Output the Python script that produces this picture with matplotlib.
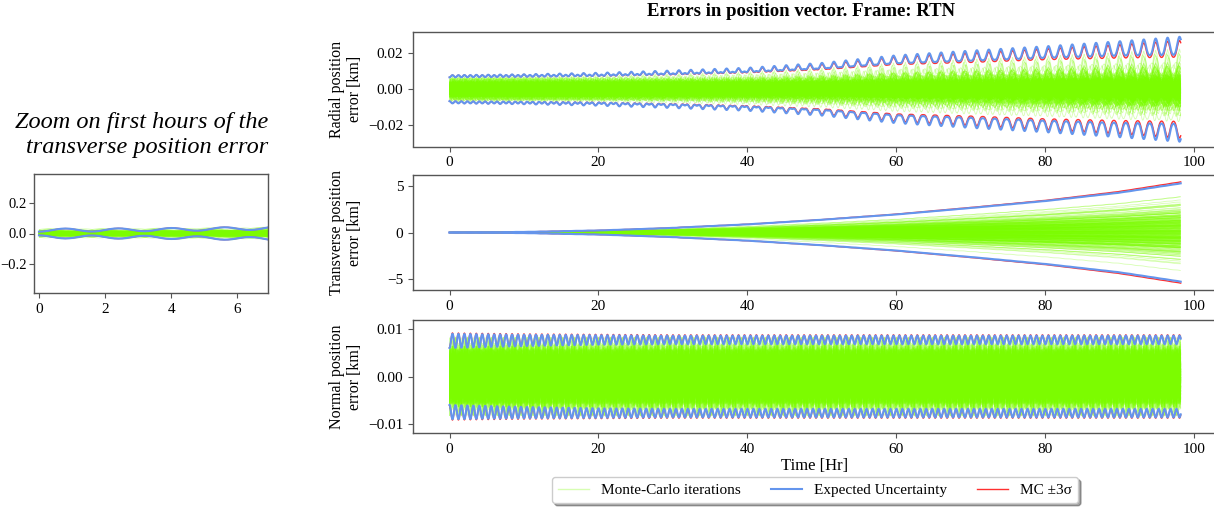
import numpy as np
import matplotlib
matplotlib.use("Agg")
import matplotlib.pyplot as plt
from matplotlib.collections import LineCollection
from matplotlib.lines import Line2D

plt.rcParams["font.family"] = ["Liberation Serif", "DejaVu Serif"]

# ---------------------------------------------------------------- data
t_end_hr = 98.2
dt_hr = 0.04
orbit_period_hr = 1.6

# 3-sigma envelope knots (time [hr], value [km])
knot_t = [0, 10, 20, 30, 40, 50, 60, 70, 80, 90, 98.2]
radial_base = [0.0072, 0.0075, 0.0080, 0.0090, 0.0103, 0.0125, 0.0160, 0.0180, 0.0200, 0.0220, 0.0235]
radial_orbit_amp = [0.0000, 0.0002, 0.0005, 0.0008, 0.0010, 0.0015, 0.0022, 0.0028, 0.0032, 0.0040, 0.0050]
radial_half_orbit_amp = 0.0006
radial_mc_ratio = [1.00, 0.99, 0.98, 0.97, 0.96, 0.95, 0.95, 0.94, 0.94, 0.93, 0.93]

trans_knot_t = [0, 2, 4, 7, 10, 20, 30, 40, 50, 60, 70, 80, 90, 98.2]
trans_base = [0.022, 0.023, 0.026, 0.035, 0.06, 0.22, 0.50, 0.88, 1.38, 1.95, 2.65, 3.40, 4.30, 5.30]
trans_orbit_amp = 0.010
trans_mc_ratio = [1.00, 1.00, 1.00, 1.00, 1.00, 1.00, 1.01, 1.01, 1.01, 1.02, 1.02, 1.02, 1.03, 1.03]

normal_base = [0.0075, 0.0076, 0.0077, 0.0077, 0.0077, 0.0077, 0.0077, 0.0077, 0.0077, 0.0077, 0.0077]
normal_half_orbit_amp = [0.0015, 0.0012, 0.0010, 0.0009, 0.0009, 0.0009, 0.0009, 0.0009, 0.0009, 0.0009, 0.0009]
normal_mc_ratio = [1.02, 1.02, 1.02, 1.02, 1.02, 1.02, 1.02, 1.02, 1.02, 1.02, 1.02]

# Monte-Carlo sample coefficients
amp_factors = [-0.98, -0.81, -0.64, -0.47, -0.30, -0.12, 0.09, 0.27, 0.44, 0.62, 0.79, 0.95]
phase_offsets = [0.0, 0.7, 1.6, 2.3, 3.2, 3.9, 4.8, 5.5]
variant_scales = [1.0, 0.66, 0.38]
drift_factors = [0.83, -0.74, 0.12, -0.05, 0.46, -0.38, 0.27, -0.61, 0.68, -0.22, 0.03, 0.35,
                 -0.47, 0.58, -0.14, 0.21, -0.29, 0.09, -0.55, 0.40, -0.09, 0.16, -0.33, 0.52]
ripple_harmonics = [3.0, 4.0, 5.0, 7.0, 9.0, 11.0]
radial_sample_amp = 0.0064
trans_sample_amp = 0.017
normal_sample_amp = 0.0058
normal_ripple_amp = 0.0050

x_ticks = [0, 20, 40, 60, 80, 100]
radial_ticks = [-0.02, 0.00, 0.02]
trans_ticks = [-5, 0, 5]
normal_ticks = [-0.01, 0.00, 0.01]
zoom_xticks = [0, 2, 4, 6]
zoom_yticks = [-0.2, 0.0, 0.2]

# ---------------------------------------------------------------- series
t = np.arange(0.0, t_end_hr, dt_hr)
w = 2 * np.pi / orbit_period_hr

r_base = np.interp(t, knot_t, radial_base)
r_osc = np.interp(t, knot_t, radial_orbit_amp)
r_env = r_base + r_osc * np.sin(w * t) + radial_half_orbit_amp * np.sin(2 * w * t - np.pi / 2)
r_mc = r_env * np.interp(t, knot_t, radial_mc_ratio)
r_drift = (r_base - radial_base[0]) + r_osc * np.sin(w * t)

t_base = np.interp(t, trans_knot_t, trans_base)
t_env = t_base + trans_orbit_amp * np.sin(w * (t - 0.4))
t_mc = t_env * np.interp(t, trans_knot_t, trans_mc_ratio)

n_base = np.interp(t, knot_t, normal_base)
n_osc = np.interp(t, knot_t, normal_half_orbit_amp)
n_env = n_base + n_osc * np.sin(2 * w * t - np.pi / 2)
n_mc = n_env * np.interp(t, knot_t, normal_mc_ratio)

radial_runs, trans_runs, normal_runs = [], [], []
k = 0
for s in variant_scales:
    for a in amp_factors:
        for p in phase_offsets:
            d = drift_factors[(k * 5) % len(drift_factors)]
            e = drift_factors[(k * 7 + 3) % len(drift_factors)]
            h = ripple_harmonics[k % len(ripple_harmonics)]
            sine = np.sin(w * t + p)
            radial_runs.append(a * s * radial_sample_amp * sine + (0.6 * d + 0.35 * a) * s * r_drift
                               + 0.0012 * e * np.sin(h * w * t + p))
            trans_runs.append(a * s * trans_sample_amp * sine
                              + (0.65 * d * (0.45 + 0.55 * s) + 0.3 * a * s) * t_base)
            normal_runs.append(a * s * normal_sample_amp * sine
                               + e * normal_ripple_amp * np.sin(h * w * t + 2 * p) ** 3)
            k += 1

mc_color = "#7CFC00"
exp_color = "#6495ED"
sig_color = "#FF3030"
spine_color = "#555555"


def draw_panel(ax, runs, env, mc):
    segs = [np.column_stack([t, y]) for y in runs]
    ax.add_collection(LineCollection(segs, colors=mc_color, linewidths=0.6, alpha=0.3))
    ax.plot(t, mc, color=sig_color, lw=1.0)
    ax.plot(t, -mc, color=sig_color, lw=1.0)
    ax.plot(t, env, color=exp_color, lw=1.5)
    ax.plot(t, -env, color=exp_color, lw=1.5)


def style(ax):
    for sp in ax.spines.values():
        sp.set_color(spine_color)
        sp.set_linewidth(1.0)
    ax.tick_params(labelsize=11, color=spine_color, length=3.5, width=0.8)


def fmt(values, spec):
    return [format(v, spec).replace("-", "\u2212") for v in values]


W, H = 1214, 507
fig = plt.figure(figsize=(W / 100, H / 100), dpi=100)


def px_axes(left, top, right, bottom):
    return fig.add_axes([left / W, (H - bottom) / H, (right - left) / W, (bottom - top) / H])


x_lo, x_hi = -4.9, 102.9
ax_r = px_axes(413, 32, 1216, 146.5)
ax_t = px_axes(413, 175, 1216, 290)
ax_n = px_axes(413, 320, 1216, 433)

draw_panel(ax_r, radial_runs, r_env, r_mc)
draw_panel(ax_t, trans_runs, t_env, t_mc)
draw_panel(ax_n, normal_runs, n_env, n_mc)

ax_r.set_ylim(-0.0317, 0.0317)
ax_t.set_ylim(-6.2, 6.2)
ax_n.set_ylim(-0.0119, 0.0119)
ax_r.set_yticks(radial_ticks)
ax_r.set_yticklabels(fmt(radial_ticks, ".2f"))
ax_t.set_yticks(trans_ticks)
ax_t.set_yticklabels(fmt(trans_ticks, "d"))
ax_n.set_yticks(normal_ticks)
ax_n.set_yticklabels(fmt(normal_ticks, ".2f"))

for ax in (ax_r, ax_t, ax_n):
    ax.set_xlim(x_lo, x_hi)
    ax.set_xticks(x_ticks)
    style(ax)

ax_r.set_ylabel("Radial position\nerror [km]", fontsize=11.5)
ax_t.set_ylabel("Transverse position\nerror [km]", fontsize=11.5)
ax_n.set_ylabel("Normal position\nerror [km]", fontsize=11.5)
ax_n.set_xlabel("Time [Hr]", fontsize=12, labelpad=2)
for ax in (ax_r, ax_t, ax_n):
    ax.yaxis.set_label_coords(-0.062, 0.5)

fig.text(801 / W, 1 - 12 / H, "Errors in position vector. Frame: RTN",
         ha="center", va="center", fontsize=13.5, fontweight="bold")

# zoom on the first hours of the transverse error
ax_z = px_axes(34, 174, 268, 293)
draw_panel(ax_z, trans_runs, t_env, t_mc)
ax_z.set_xlim(-0.15, 6.93)
ax_z.set_ylim(-0.39, 0.39)
ax_z.set_xticks(zoom_xticks)
ax_z.set_yticks(zoom_yticks)
ax_z.set_yticklabels(fmt(zoom_yticks, ".1f"))
style(ax_z)
ax_z.tick_params(axis="y", pad=2, labelsize=10.5)
fig.text(268 / W, 1 - 135 / H, "Zoom on first hours of the\ntransverse position error",
         ha="right", va="center", fontsize=17.5, fontstyle="italic", linespacing=1.2)

handles = [Line2D([], [], color=mc_color, lw=1.0, alpha=0.3),
           Line2D([], [], color=exp_color, lw=1.5),
           Line2D([], [], color=sig_color, lw=1.0)]
labels = ["Monte-Carlo iterations", "Expected Uncertainty", "MC \u00b13\u03c3"]
fig.legend(handles, labels, loc="center", bbox_to_anchor=(815 / W, 1 - 490 / H), ncol=3,
           fontsize=11, shadow=True, frameon=True, fancybox=True, columnspacing=2.0)

fig.savefig("out.png", dpi=100)
